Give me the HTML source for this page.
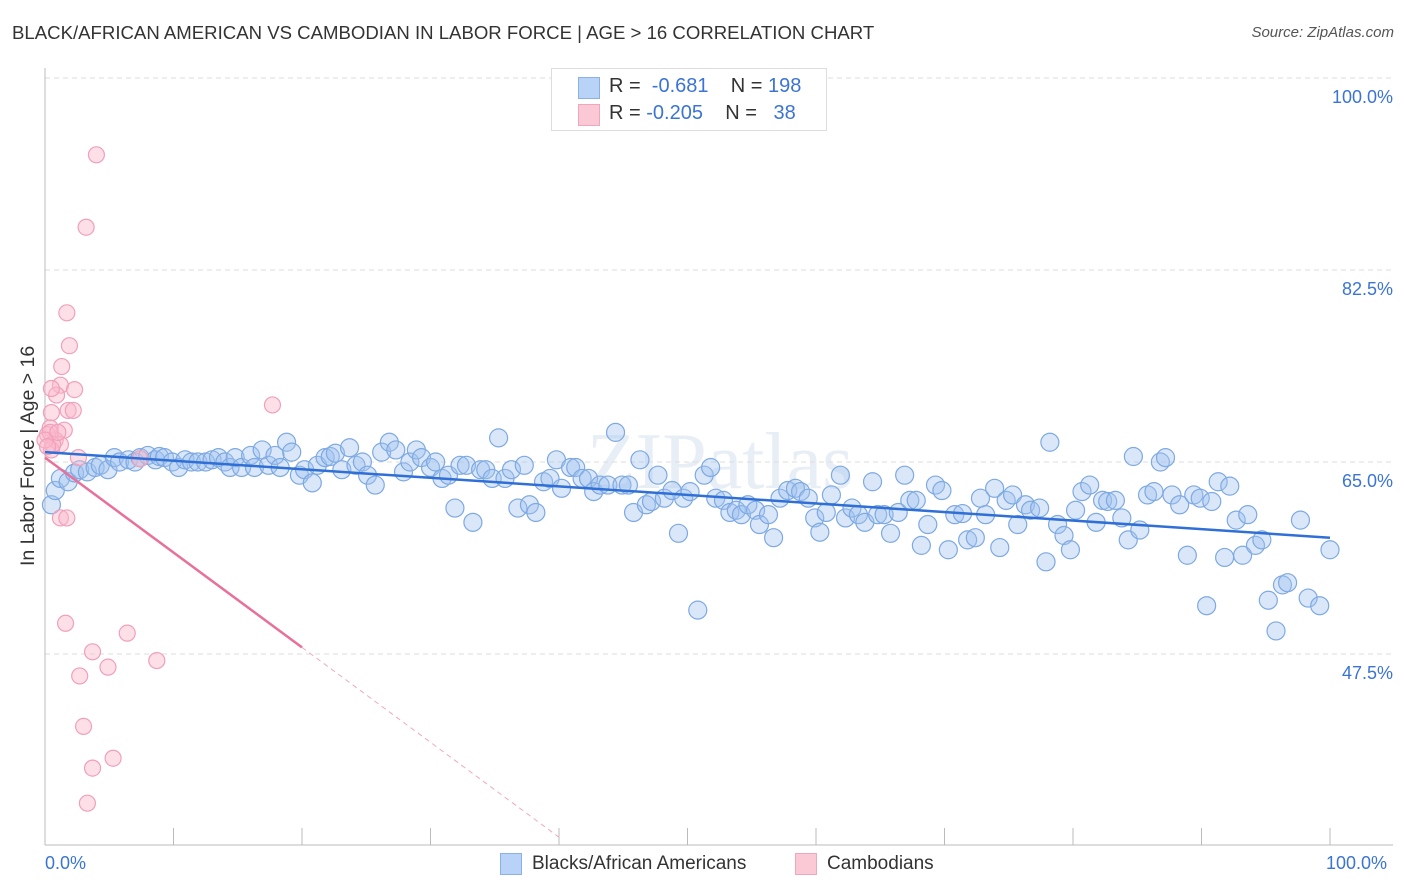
<!DOCTYPE html>
<html><head><meta charset="utf-8">
<style>
body{margin:0;background:#fff;font-family:"Liberation Sans",sans-serif;}
#wrap{position:relative;width:1406px;height:892px;overflow:hidden;}
.t{position:absolute;white-space:nowrap;}
</style></head>
<body><div id="wrap">
<div class="t" style="left:12px;top:22px;font-size:18.6px;color:#333;">BLACK/AFRICAN AMERICAN VS CAMBODIAN IN LABOR FORCE | AGE &gt; 16 CORRELATION CHART</div>
<div class="t" style="right:12px;top:24px;font-size:15px;color:#555;font-style:italic;">Source: ZipAtlas.com</div>
<svg id="svg" width="1406" height="892" style="position:absolute;left:0;top:0"></svg>
<div style="position:absolute;left:551px;top:68px;width:274px;height:61px;border:1px solid #ddd;background:#fff;">
 <div style="position:absolute;left:26px;top:8px;width:20px;height:20px;background:#b8d3f7;border:1px solid #8ab0e6;"></div>
 <div class="t" style="left:57px;top:6px;font-size:20px;color:#333;">R = &nbsp;<span style="color:#3b74d4">-0.681</span>&nbsp;&nbsp;&nbsp; N = <span style="color:#3b74d4">198</span></div>
 <div style="position:absolute;left:26px;top:35px;width:20px;height:20px;background:#fbc8d6;border:1px solid #eea7bd;"></div>
 <div class="t" style="left:57px;top:33px;font-size:20px;color:#333;">R = <span style="color:#3b74d4">-0.205</span>&nbsp;&nbsp;&nbsp; N = &nbsp;&nbsp;<span style="color:#3b74d4">38</span></div>
</div>
<div style="position:absolute;left:500px;top:853px;width:20px;height:20px;background:#b8d3f7;border:1px solid #8ab0e6;"></div>
<div class="t" style="left:532px;top:853px;font-size:19px;color:#333;">Blacks/African Americans</div>
<div style="position:absolute;left:795px;top:853px;width:20px;height:20px;background:#fbc8d6;border:1px solid #eea7bd;"></div>
<div class="t" style="left:827px;top:853px;font-size:19px;color:#333;">Cambodians</div>
<div class="t" style="left:45px;top:853px;font-size:18px;color:#3b74d4;">0.0%</div>
<div class="t" style="left:1326px;top:853px;font-size:18px;color:#3b74d4;">100.0%</div>
<div class="t" style="left:17px;top:566px;font-size:19.5px;color:#333;transform:rotate(-90deg);transform-origin:0 0;">In Labor Force | Age &gt; 16</div>
</div>
<script>
const yTicks=[100,82.5,65,47.5];
const yTickLabels=["100.0%","82.5%","65.0%","47.5%"];
const blueX=[0.5,0.8,1.2,1.8,2.3,2.7,3.3,3.9,4.3,4.9,5.4,5.8,6.5,7.0,7.4,8.0,8.6,8.9,9.3,9.9,10.4,10.9,11.4,11.9,12.5,13.0,13.5,14.0,14.4,14.8,15.3,16.0,16.3,16.9,17.4,17.9,18.3,18.8,19.2,19.8,20.2,20.8,21.2,21.8,22.2,22.6,23.1,23.7,24.2,24.7,25.1,25.7,26.2,26.8,27.3,27.9,28.4,28.9,29.3,30.0,30.4,30.9,31.4,31.9,32.3,32.8,33.3,33.9,34.3,34.8,35.3,35.8,36.3,36.8,37.3,37.7,38.2,38.8,39.3,39.8,40.2,40.9,41.3,41.8,42.3,42.7,43.2,43.8,44.4,44.9,45.4,45.8,46.3,46.8,47.2,47.7,48.2,48.8,49.3,49.7,50.2,50.8,51.3,51.8,52.2,52.8,53.3,53.8,54.2,54.7,55.3,55.6,56.3,56.7,57.2,57.8,58.4,58.8,59.4,59.9,60.3,60.8,61.2,61.9,62.3,62.8,63.3,63.8,64.4,64.8,65.3,65.8,66.4,66.9,67.3,67.8,68.2,68.7,69.3,69.8,70.3,70.8,71.4,71.8,72.4,72.8,73.2,73.9,74.3,74.8,75.3,75.7,76.3,76.7,77.4,77.9,78.2,78.8,79.3,79.8,80.2,80.7,81.3,81.8,82.3,82.7,83.3,83.8,84.3,84.7,85.2,85.8,86.3,86.8,87.2,87.7,88.3,88.9,89.4,89.9,90.4,90.8,91.3,91.8,92.2,92.7,93.2,93.6,94.2,94.7,95.2,95.8,96.3,96.7,97.7,98.3,99.2,100];
const blueY=[61.1,62.4,63.5,63.2,64.0,64.3,64.1,64.5,64.7,64.3,65.4,65.0,65.2,65.0,65.4,65.6,65.2,65.5,65.4,65.0,64.5,65.2,65.0,65.0,65.0,65.2,65.4,65.0,64.5,65.4,64.5,65.6,64.5,66.1,64.7,65.6,64.5,66.8,65.9,63.8,64.3,63.1,64.7,65.4,65.5,65.8,64.3,66.3,64.7,65.0,63.8,62.9,65.9,66.8,66.1,64.1,65.0,66.1,65.4,64.5,65.0,63.5,63.8,60.8,64.7,64.7,59.5,64.3,64.3,63.5,67.2,63.5,64.3,60.8,64.7,61.1,60.4,63.2,63.5,65.2,62.6,64.5,64.5,63.5,63.5,62.3,62.9,62.9,67.7,62.9,62.9,60.4,65.2,61.1,61.4,63.8,61.7,62.4,58.5,61.7,62.3,51.5,63.8,64.5,61.7,61.5,60.4,60.6,60.2,61.1,60.6,59.3,60.2,58.1,61.7,62.4,62.6,62.3,61.7,59.9,58.6,60.4,62.0,63.8,59.9,60.8,60.2,59.5,63.2,60.2,60.2,58.5,60.4,63.8,61.5,61.5,57.4,59.3,62.9,62.4,57.0,60.2,60.3,57.9,58.1,61.7,60.2,62.6,57.2,61.5,62.0,59.3,61.1,60.6,60.8,55.9,66.8,59.3,58.3,57.0,60.6,62.3,62.9,59.5,61.5,61.4,61.5,59.9,57.9,65.5,58.8,62.0,62.3,65.0,65.4,62.0,61.1,56.5,62.0,61.7,51.9,61.4,63.2,56.3,62.8,59.7,56.5,60.2,57.4,57.9,52.4,49.6,53.8,54.0,59.7,52.6,51.9,57.0];
const pinkX=[4.0,3.2,1.7,1.9,1.3,1.2,2.3,0.9,0.5,1.8,2.2,0.5,1.5,0.4,0.8,1.2,0.2,0.5,2.6,17.7,1.2,1.7,1.6,6.4,3.7,8.7,4.9,2.7,3.0,5.3,3.7,3.3,0.4,0.6,1.0,0,0.2,7.4];
const pinkY=[93.0,86.4,78.6,75.6,73.7,72.0,71.6,71.1,71.7,69.7,69.7,69.5,67.9,68.1,67.0,66.6,67.5,66.1,65.4,70.2,59.9,59.9,50.3,49.4,47.7,46.9,46.3,45.5,40.9,38.0,37.1,33.9,67.7,66.6,67.7,67.0,66.4,65.3];
const blueTrend=[65.9,58.1];
const pinkTrend=[65.4,48.1,30.8];

const NS="http://www.w3.org/2000/svg";
const svg=document.getElementById('svg');
const X=v=>45+v*12.85;
const Y=v=>462-(v-65)*10.971;
function mk(tag,attrs){const e=document.createElementNS(NS,tag);for(const k in attrs)e.setAttribute(k,attrs[k]);svg.appendChild(e);return e;}
let wm=mk('text',{x:720,y:488,'font-size':80,'text-anchor':'middle',fill:'#e8eef6','font-family':'Liberation Serif, serif'});
wm.textContent='ZIPatlas';


yTicks.forEach((t,i)=>{
 let g=mk('line',{x1:45,x2:1393,y1:Y(t),y2:Y(t),stroke:'#ddd','stroke-dasharray':'5,4'});
 
 
 let l=mk('text',{x:1393,y:Y(t)+25,'text-anchor':'end','font-size':18,fill:'#3b74d4','font-family':'Liberation Sans, sans-serif'});
 l.textContent=yTickLabels[i];
 
 
});
let ya=mk('line',{x1:45,x2:45,y1:68,y2:845,stroke:'#bbb'});


let xa=mk('line',{x1:45,x2:1393,y1:845,y2:845,stroke:'#bbb'});


for(let k=0;k<=10;k++){
 let tk=mk('line',{x1:X(k*10),x2:X(k*10),y1:828,y2:845,stroke:'#bbb'});
 
 
}
blueX.forEach((x,i)=>{
 let c=mk('circle',{cx:X(x),cy:Y(blueY[i]),r:9,fill:'rgba(160,196,240,0.4)',stroke:'#7ea9e2','stroke-width':1.2});
 
 
});
pinkX.forEach((x,i)=>{
 let c=mk('circle',{cx:X(x),cy:Y(pinkY[i]),r:8,fill:'rgba(250,185,205,0.45)',stroke:'#f0a0ba','stroke-width':1.2});
 
 
});
let bt=mk('line',{x1:X(0),y1:Y(blueTrend[0]),x2:X(100),y2:Y(blueTrend[1]),stroke:'#2f6fd6','stroke-width':2.5});


let pt=mk('line',{x1:X(0),y1:Y(pinkTrend[0]),x2:X(20),y2:Y(pinkTrend[1]),stroke:'#e8709a','stroke-width':2.5});


let pd=mk('line',{x1:X(20),y1:Y(pinkTrend[1]),x2:X(40),y2:Y(pinkTrend[2]),stroke:'#eeaabf','stroke-width':1,'stroke-dasharray':'5,4'});


</script>
</body></html>
